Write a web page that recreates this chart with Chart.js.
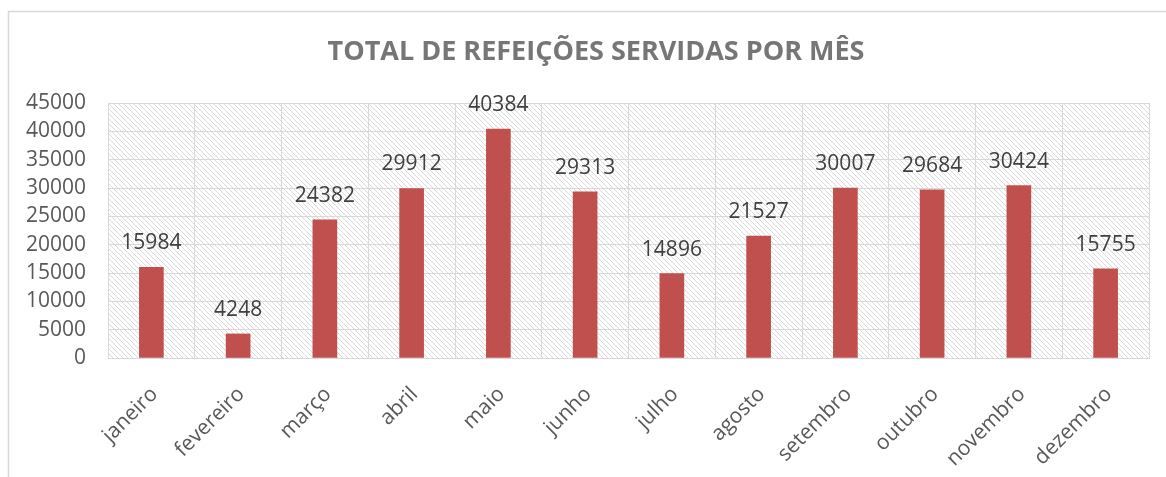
<!DOCTYPE html>
<html>
<head>
<meta charset="utf-8">
<script src="https://cdn.jsdelivr.net/npm/chart.js@4.4.1/dist/chart.umd.min.js"></script>
<style>
  html, body { margin: 0; padding: 0; background: #fff; }
  #box { width: 1166px; height: 477px; }
</style>
</head>
<body>
<div id="box"><canvas id="grafico" width="1166" height="477"></canvas></div>
<script>
const titulo = 'TOTAL DE REFEIÇÕES SERVIDAS POR MÊS';
const meses = ['janeiro', 'fevereiro', 'março', 'abril', 'maio', 'junho', 'julho', 'agosto', 'setembro', 'outubro', 'novembro', 'dezembro'];
const refeicoes = [15984, 4248, 24382, 29912, 40384, 29313, 14896, 21527, 30007, 29684, 30424, 15755];
const fonte = "'Open Sans', 'Noto Sans', sans-serif";

// padrão de listras diagonais do fundo
function listras() {
    const c = document.createElement('canvas');
    c.width = 5; c.height = 5;
    const g = c.getContext('2d');
    g.fillStyle = '#fff';
    g.fillRect(0, 0, 5, 5);
    g.fillStyle = '#dadada';
    for (let i = 0; i < 5; i++) g.fillRect(i, i, 1, 1);
    return g.createPattern(c, 'repeat');
}

const fundo = {
    id: 'fundo',
    beforeDraw(chart) {
        const { ctx, chartArea: a } = chart;
        ctx.save();
        ctx.strokeStyle = '#d9d9d9';
        ctx.lineWidth = 1.5;
        ctx.strokeRect(8.5, 11.5, 1170, 480);
        ctx.fillStyle = listras();
        ctx.fillRect(a.left, a.top, a.right - a.left, a.bottom - a.top);
        ctx.fillStyle = '#767676';
        ctx.font = "bold 27px " + fonte;
        ctx.textAlign = 'center';
        ctx.textBaseline = 'middle';
        ctx.fillText(titulo, 596, 52);
        ctx.restore();
    }
};

const rotulos = {
    id: 'rotulos',
    afterDatasetsDraw(chart) {
        const { ctx } = chart;
        const meta = chart.getDatasetMeta(0);
        ctx.save();
        ctx.fillStyle = '#404040';
        ctx.font = "21px " + fonte;
        ctx.textAlign = 'center';
        ctx.textBaseline = 'alphabetic';
        meta.data.forEach((bar, i) => {
            ctx.fillText(refeicoes[i], bar.x, bar.y - 18);
        });
        ctx.restore();
    }
};

const ctx = document.getElementById('grafico').getContext('2d');
const chart = new Chart(ctx, {
    type: 'bar',
    data: {
        labels: meses,
        datasets: [{
            data: refeicoes,
            backgroundColor: '#C0504D',
            barThickness: 24
        }]
    },
    plugins: [fundo, rotulos],
    options: {
        responsive: false,
        animation: false,
        layout: { padding: { top: 103, right: 17, left: 8, bottom: 0 } },
        plugins: {
            legend: { display: false },
            tooltip: { enabled: false }
        },
        scales: {
            y: {
                min: 0,
                max: 45000,
                ticks: { stepSize: 5000, color: '#595959', font: { size: 21, family: fonte }, padding: 22, callback: v => String(v) },
                grid: { color: '#d9d9d9', drawTicks: false },
                border: { color: '#d9d9d9' },
                afterFit(s) { s.width = 100; }
            },
            x: {
                ticks: { color: '#595959', font: { size: 21, family: fonte }, maxRotation: 45, minRotation: 45, padding: 24, labelOffset: 3 },
                grid: { color: '#d9d9d9', drawTicks: false, offset: true },
                border: { color: '#d9d9d9' },
                afterFit(s) { s.height = 119; }
            }
        }
    }
});
</script>
</body>
</html>
